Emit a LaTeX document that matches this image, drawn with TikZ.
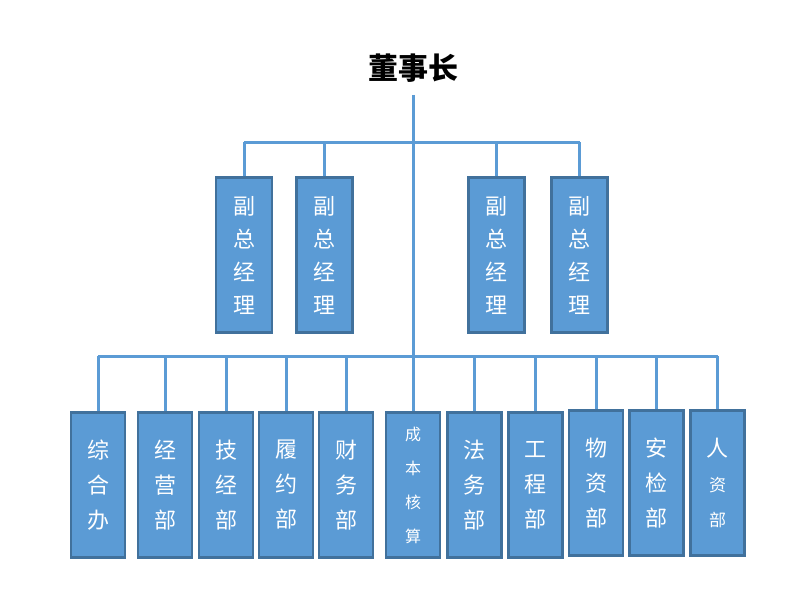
\documentclass[tikz,border=0pt]{standalone}
\usepackage{fontspec}
\newfontfamily\cjk{Noto Sans CJK SC}
\usetikzlibrary{positioning}
\definecolor{boxblue}{HTML}{5B9BD5}
\definecolor{boxedge}{HTML}{41719C}
\tikzstyle{Link}=[draw=boxblue,line width=3pt]
\tikzstyle{Abox}=[draw=boxedge,fill=boxblue,line width=2.2pt,text=white,align=center,inner sep=0]
\tikzstyle{VPbox}=[Abox,minimum width=56pt,minimum height=155pt,font=\cjk\fontsize{22}{33}\selectfont]
\tikzstyle{Dbox}=[Abox,minimum width=54pt,minimum height=145pt,font=\cjk\fontsize{22}{35}\selectfont]
\tikzstyle{Dsmall}=[font=\cjk\fontsize{16}{34}\selectfont]
\newcommand{\vp}[2]{\node[VPbox] (#1) at (#2,255) {副\\总\\经\\理};\path[Link] (#1.north) -- (#1.north |- up);}
\newcommand{\dept}[4][]{\node[Dbox,#1] (#2) at (#3,485) {#4};\path[Link] (#2.north) -- (#2.north |- low);}
\begin{document}
\begin{tikzpicture}[x=1pt,y=-1pt]
  \useasboundingbox (0,0) rectangle (791,595);
	\node[font=\cjk\bfseries\fontsize{30}{30}\selectfont] (chair) at (413,68) {董事长};
	\coordinate[below=9pt of chair] (top);
	\coordinate (up) at (244,142); \coordinate (upr) at (580,142);
	\coordinate (low) at (98,356); \coordinate (lowr) at (717.5,356);
	\path[Link] (up) -- (upr) (low) -- (lowr) (top) -- (top |- low);
	\vp{vpA}{244};
	\vp{vpB}{324.5};
	\vp{vpC}{496.5};
	\vp{vpD}{579.5};
	\dept{zhb}{98}{综\\合\\办};
	\dept{jyb}{165}{经\\营\\部};
	\dept{jjb}{226}{技\\经\\部};
	\dept{lyb}{286}{履\\约\\部};
	\dept{cwb}{346}{财\\务\\部};
	\dept[Dsmall]{cbhs}{413}{成\\本\\核\\算};
	\dept{fwb}{474.5}{法\\务\\部};
	\dept{gcb}{535.5}{工\\程\\部};
	\dept[yshift=2pt]{wzb}{596}{物\\资\\部};
	\dept[yshift=2pt]{ajb}{656.5}{安\\检\\部};
	\dept[yshift=2pt]{rzb}{717.5}{人\\{\fontsize{17}{34}\selectfont 资}\\{\fontsize{17}{34}\selectfont 部}};
\end{tikzpicture}
\end{document}
